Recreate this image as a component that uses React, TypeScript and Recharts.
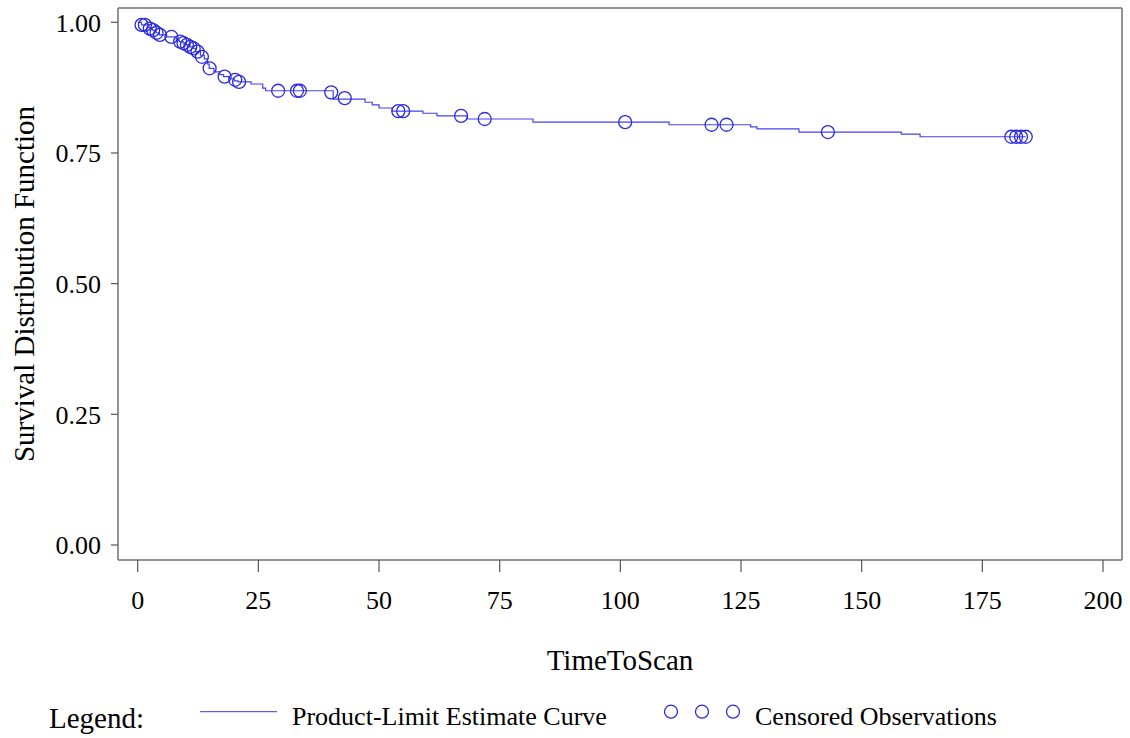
import {
  ComposedChart,
  CartesianGrid,
  Line,
  Scatter,
  XAxis,
  YAxis,
} from 'recharts';

// Product-limit estimate: step times and survival from that time on
const stepTimes = [
  0, 0.8, 2.3, 3.0, 3.8, 4.5, 6.0, 8.0, 8.6, 9.4, 10.0, 10.8, 11.5, 12.0,
  13.0, 13.8, 14.5, 14.8, 15.8, 17.0, 17.8, 19.0, 20.0, 20.8, 23.5, 25.9,
  26.5, 40.5, 47.1, 48.6, 50.0, 52.7, 59.1, 62.0, 68.2, 81.9, 110.1, 127.0,
  128.3, 137.0, 158.2, 162.1, 184.0,
];
const stepSurvival = [
  1.0, 0.995, 0.99, 0.985, 0.98, 0.976, 0.972, 0.966, 0.963, 0.96, 0.957,
  0.953, 0.95, 0.944, 0.937, 0.93, 0.92, 0.912, 0.905, 0.9, 0.896, 0.892,
  0.888, 0.886, 0.882, 0.874, 0.869, 0.853, 0.847, 0.842, 0.836, 0.83, 0.826,
  0.821, 0.815, 0.809, 0.804, 0.8, 0.796, 0.79, 0.786, 0.781, 0.781,
];

// censored observations
const censorTimes = [
  0.8, 1.5, 2.5, 3.2, 3.9, 4.6, 7.0, 8.8, 9.5, 10.2, 10.9, 11.6, 12.4, 13.3,
  14.9, 18.0, 20.2, 21.0, 29.1, 33.0, 33.6, 40.1, 42.9, 54.0, 55.0, 67.0,
  71.9, 101.0, 118.9, 122.0, 143.0, 181.0, 182.0, 183.0, 184.0,
];
const censorSurvival = [
  0.995, 0.995, 0.988, 0.985, 0.98, 0.976, 0.972, 0.963, 0.96, 0.957, 0.953,
  0.95, 0.944, 0.934, 0.912, 0.896, 0.89, 0.886, 0.869, 0.869, 0.869, 0.866,
  0.855, 0.83, 0.83, 0.821, 0.815, 0.809, 0.804, 0.804, 0.79, 0.781, 0.781,
  0.781, 0.781,
];

const xTicks = [0, 25, 50, 75, 100, 125, 150, 175, 200];
const yTicks = [0, 0.25, 0.5, 0.75, 1];

const curve = stepTimes.map((t, i) => ({ t, s: stepSurvival[i] }));
const censored = censorTimes.map((t, i) => ({ t, s: censorSurvival[i] }));

const font = '"Liberation Serif", "Times New Roman", serif';
const frame = '#707070';
const lineBlue = '#4343ea';
const dotBlue = '#2b2be0';

const CensorMark = (props: any) => (
  <circle
    cx={props.cx}
    cy={props.cy}
    r={6.5}
    fill="none"
    stroke={dotBlue}
    strokeWidth={1.3}
  />
);

export default function App() {
  return (
    <div
      style={{
        position: 'absolute',
        left: 0,
        top: 0,
        width: 1130,
        height: 738,
        background: '#fff',
        fontFamily: font,
      }}
    >
      <ComposedChart
        width={1130}
        height={738}
        margin={{ top: 8, right: 8, bottom: 68, left: 0 }}
      >
        {/* top and right edges of the frame */}
        <CartesianGrid
          xAxisId="b"
          yAxisId="l"
          horizontalPoints={[8]}
          verticalPoints={[1122]}
          stroke={frame}
          strokeWidth={1.5}
        />
        <XAxis
          xAxisId="b"
          type="number"
          dataKey="t"
          domain={[0, 200]}
          ticks={xTicks}
          padding={{ left: 19.7, right: 19 }}
          height={110}
          tickSize={12}
          tickMargin={19}
          axisLine={{ stroke: frame, strokeWidth: 1.5 }}
          tickLine={{ stroke: '#555', strokeWidth: 1.2 }}
          tick={{ fill: '#000', fontSize: 26, fontFamily: font }}
          label={{
            value: 'TimeToScan',
            position: 'insideBottom',
            offset: 0,
            style: { fill: '#000', fontSize: 29, fontFamily: font },
          }}
        />
        <YAxis
          yAxisId="l"
          type="number"
          dataKey="s"
          domain={[0, 1]}
          ticks={yTicks}
          padding={{ top: 14.3, bottom: 15 }}
          width={118}
          tickSize={7}
          tickMargin={10}
          tickFormatter={(v: number) => v.toFixed(2)}
          axisLine={{ stroke: frame, strokeWidth: 1.5 }}
          tickLine={{ stroke: '#555', strokeWidth: 1.2 }}
          tick={{ fill: '#000', fontSize: 26, fontFamily: font }}
          label={{
            value: 'Survival Distribution Function',
            angle: -90,
            position: 'insideLeft',
            offset: 24,
            style: {
              textAnchor: 'middle',
              fill: '#000',
              fontSize: 29,
              fontFamily: font,
            },
          }}
        />
        <Line
          xAxisId="b"
          yAxisId="l"
          data={curve}
          dataKey="s"
          type="stepAfter"
          stroke={lineBlue}
          strokeWidth={1.2}
          dot={false}
          activeDot={false}
          isAnimationActive={false}
        />
        <Scatter
          xAxisId="b"
          yAxisId="l"
          data={censored}
          dataKey="s"
          shape={CensorMark}
          isAnimationActive={false}
        />
      </ComposedChart>

      <svg
        width={1130}
        height={60}
        style={{ position: 'absolute', left: 0, top: 680 }}
      >
        <text x={49} y={48} fontSize={29} fontFamily={font} fill="#000">
          Legend:
        </text>
        <line x1={200} y1={31.7} x2={277} y2={31.7} stroke="#6262e0" strokeWidth={1.2} />
        <text x={292} y={45} fontSize={26} fontFamily={font} fill="#000">
          Product-Limit Estimate Curve
        </text>
        {[671, 702, 733].map((cx) => (
          <circle key={cx} cx={cx} cy={31.7} r={6.5} fill="none" stroke={dotBlue} strokeWidth={1.3} />
        ))}
        <text x={755} y={45} fontSize={26} fontFamily={font} fill="#000">
          Censored Observations
        </text>
      </svg>
    </div>
  );
}
